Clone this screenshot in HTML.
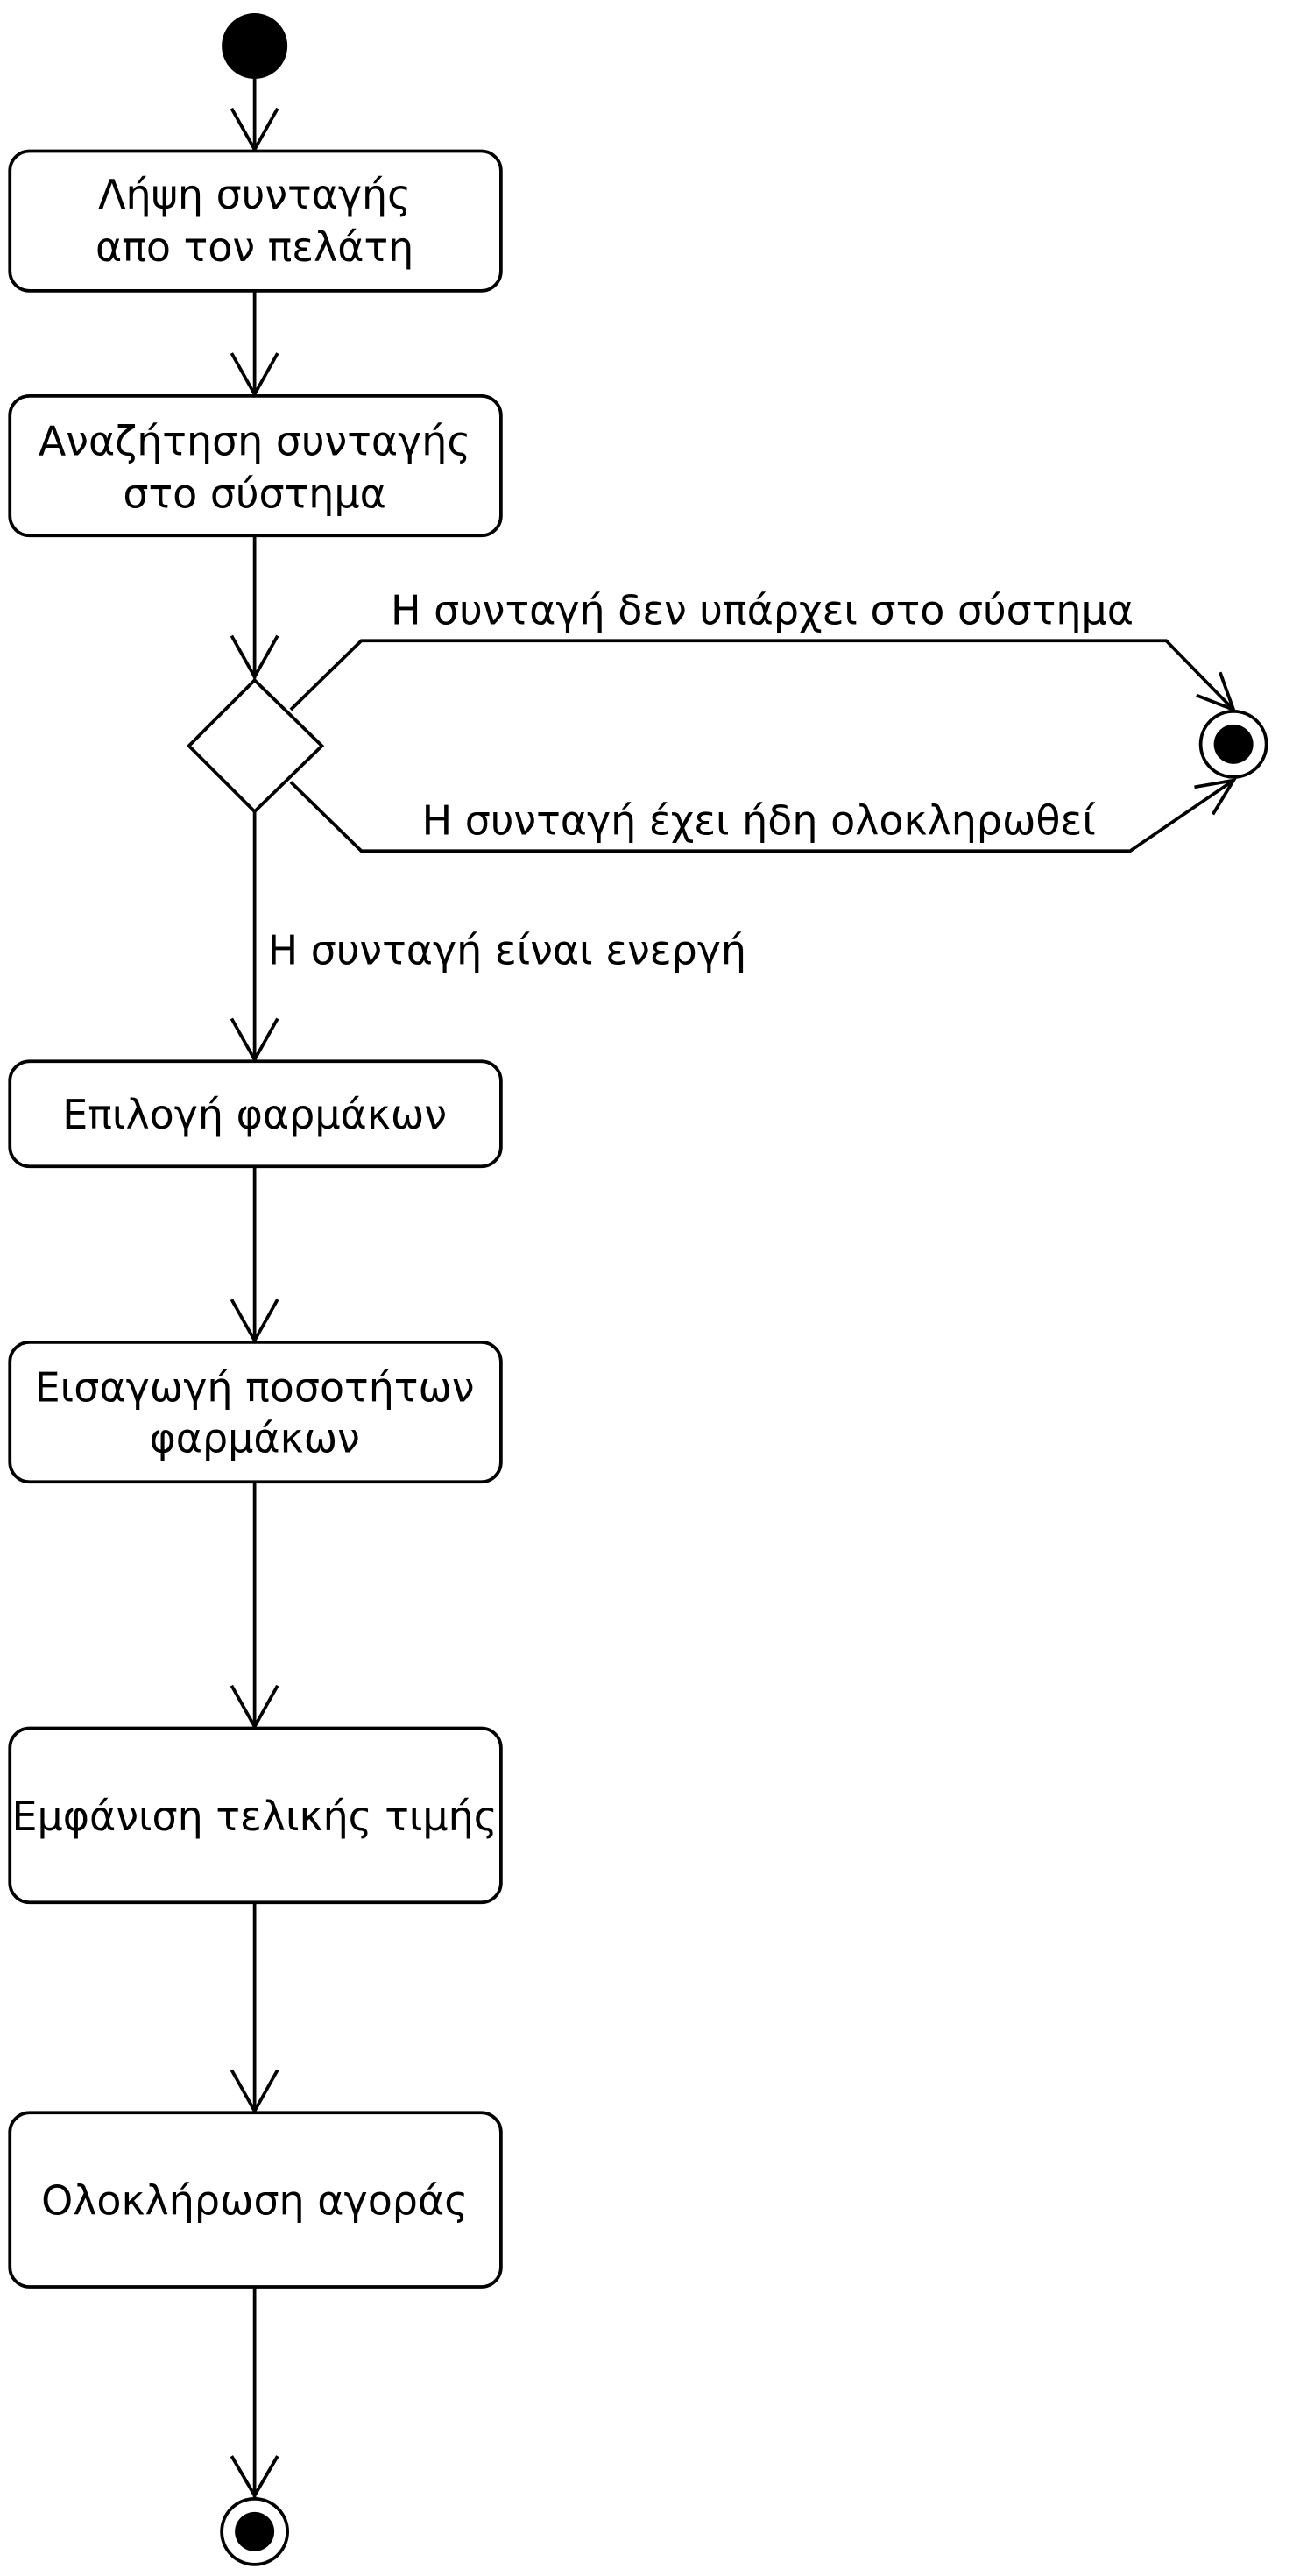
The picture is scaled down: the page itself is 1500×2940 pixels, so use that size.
<!DOCTYPE html>
<html><head><meta charset="utf-8"><style>html,body{margin:0;padding:0;background:#fff}svg{display:block}</style></head>
<body>
<svg width="1500" height="2940" viewBox="0 0 800 1568" xmlns="http://www.w3.org/2000/svg">
<g fill="none" stroke="#000" stroke-width="2">
<line x1="155" y1="48" x2="155" y2="92"/><polyline points="141,66 155,91 169,66"/>
<rect x="6" y="92" width="299" height="85" rx="12"/>
<line x1="155" y1="177" x2="155" y2="241"/><polyline points="141,215 155,240 169,215"/>
<rect x="6" y="241" width="299" height="85" rx="12"/>
<line x1="155" y1="326" x2="155" y2="413"/><polyline points="141,387 155,412 169,387"/>
<polygon points="155,414 196,454 155,494 115,454"/>
<polyline points="177,432 220,390 710,390 751,432"/>
<polyline points="742.8,409.2 751,432 728.4,423.2"/>
<polyline points="177,476 220,518 688,518 751,475"/>
<polyline points="738.4,495.7 751,475 727.2,479.1"/>
<circle cx="751" cy="453" r="20"/>
<line x1="155" y1="494" x2="155" y2="646"/><polyline points="141,620 155,645 169,620"/>
<rect x="6" y="646" width="299" height="64" rx="12"/>
<line x1="155" y1="710" x2="155" y2="817"/><polyline points="141,791 155,816 169,791"/>
<rect x="6" y="817" width="299" height="85" rx="12"/>
<line x1="155" y1="902" x2="155" y2="1052"/><polyline points="141,1026 155,1051 169,1026"/>
<rect x="6" y="1052" width="299" height="106" rx="12"/>
<line x1="155" y1="1158" x2="155" y2="1286"/><polyline points="141,1260 155,1285 169,1260"/>
<rect x="6" y="1286" width="299" height="106" rx="12"/>
<line x1="155" y1="1392" x2="155" y2="1520"/><polyline points="141,1495 155,1519 169,1495"/>
<circle cx="155" cy="1541" r="20"/>
</g>
<g fill="#000">
<circle cx="155" cy="28" r="20"/>
<circle cx="751" cy="453" r="12"/>
<circle cx="155" cy="1541" r="12"/>
</g>
<g font-family="'DejaVu Sans','Liberation Sans',sans-serif" font-size="24.5" fill="#000" text-anchor="middle">
<text x="155" y="127">Λήψη συνταγής</text>
<text x="155" y="159">απο τον πελάτη</text>
<text x="155" y="277">Αναζήτηση συνταγής</text>
<text x="155" y="309">στο σύστημα</text>
<text x="464" y="380">Η συνταγή δεν υπάρχει στο σύστημα</text>
<text x="462" y="508">Η συνταγή έχει ήδη ολοκληρωθεί</text>
<text x="163" y="587" text-anchor="start">Η συνταγή είναι ενεργή</text>
<text x="155" y="687">Επιλογή φαρμάκων</text>
<text x="155" y="853">Εισαγωγή ποσοτήτων</text>
<text x="155" y="884">φαρμάκων</text>
<text x="155" y="1114">Εμφάνιση τελικής τιμής</text>
<text x="155" y="1348">Ολοκλήρωση αγοράς</text>
</g>
</svg>
</body></html>
